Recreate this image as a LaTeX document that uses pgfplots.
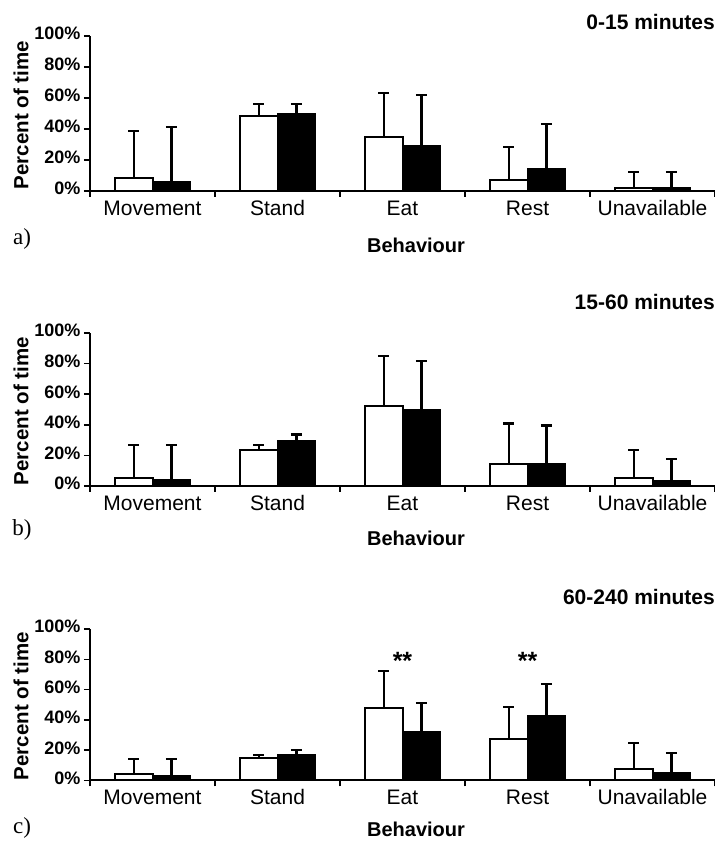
\documentclass[border=0pt]{standalone}
\usepackage{pgfplots}
\pgfplotsset{compat=1.18}
\usepackage{pgfplotstable}
\usepackage{fontspec}
\setmainfont{Liberation Sans}
\newfontfamily\timesf{Liberation Serif}

% x: category index; wv/we: white bar value / upper error; bv/be: black bar value / upper error
\pgfplotstableread{
x wv we bv be
0 8.2 30.7 6.0 35.3
1 48.4 7.6 49.7 6.3
2 34.6 28.4 29.0 33.0
3 6.9 21.7 14.0 29.4
4 2.1 10.2 1.7 10.6
}\dataA
\pgfplotstableread{
x wv we bv be
0 5.0 21.7 3.7 23.0
1 23.5 3.4 29.6 4.1
2 52.4 32.8 49.4 32.1
3 14.6 26.3 14.6 25.0
4 5.0 18.3 3.5 13.9
}\dataB
\pgfplotstableread{
x wv we bv be
0 4.0 10.1 2.6 11.5
1 14.5 2.2 16.9 3.3
2 47.6 24.8 32.1 18.8
3 27.3 21.1 42.7 20.9
4 7.3 17.5 5.0 12.8
}\dataC

\pgfplotsset{
 panel/.style={
  scale only axis, width=625pt,
  xmin=-0.5, xmax=4.5, ymin=0, ymax=100,
  axis lines*=left,
  axis line style={line width=1.8pt, black},
  ybar=0pt, bar width=37.5pt,
  xtick={0,...,4}, xticklabels={Movement,Stand,Eat,Rest,Unavailable},
  major x tick style={draw=none},
  minor xtick={-0.5,0.5,...,4.5},
  ytick={0,20,...,100}, yticklabels={0\%,20\%,40\%,60\%,80\%,100\%},
  tick align=outside, tick style={line width=1.5pt, black},
  major tick length=6pt, minor tick length=6pt,
  typeset ticklabels with strut,
  xticklabel style={font=\fontsize{21}{24}\selectfont, yshift=2pt},
  yticklabel style={font=\bfseries\fontsize{18}{20}\selectfont},
  every axis x label/.style={at={(axis description cs:0.5216,0)}, anchor=center, inner sep=0pt},
  every axis y label/.style={at={(axis description cs:0,0.49)}, xshift=-69pt, rotate=90, anchor=center},
  xlabel={Behaviour}, ylabel={Percent of time},
  xlabel style={font=\bfseries\fontsize{20}{22}\selectfont},
  ylabel style={font=\bfseries\fontsize{20.5}{22}\selectfont},
 },
 wbar/.style={fill=white, draw=black, line width=2pt,
   error bars/.cd, y dir=plus, y explicit,
   error bar style={line width=2.5pt, black},
   error mark options={rotate=90, line width=2.2pt, mark size=5.5pt, black}},
 bbar/.style={fill=black, draw=black, line width=2pt,
   error bars/.cd, y dir=plus, y explicit,
   error bar style={line width=2.5pt, black},
   error mark options={rotate=90, line width=2.2pt, mark size=5.5pt, black}},
}

\begin{document}
\begin{tikzpicture}
\useasboundingbox (0,0) rectangle (715pt,841pt);

% panel a
\begin{axis}[panel, height=155pt, at={(90pt,650pt)}, anchor=south west,
  xlabel style={yshift=-54pt}]
\addplot[wbar] table[x=x, y=wv, y error=we]{\dataA};
\addplot[bbar] table[x=x, y=bv, y error=be]{\dataA};
\end{axis}

% panel b
\begin{axis}[panel, height=153pt, at={(90pt,355pt)}, anchor=south west,
  xlabel style={yshift=-52pt}]
\addplot[wbar] table[x=x, y=wv, y error=we]{\dataB};
\addplot[bbar] table[x=x, y=bv, y error=be]{\dataB};
\end{axis}

% panel c
\begin{axis}[panel, height=151.3pt, at={(90pt,60.7pt)}, anchor=south west,
  xlabel style={yshift=-49.5pt}]
\addplot[wbar] table[x=x, y=wv, y error=we]{\dataC};
\addplot[bbar] table[x=x, y=bv, y error=be]{\dataC};
\node[font=\bfseries\fontsize{25}{25}\selectfont] at (axis cs:2,79) {**};
\node[font=\bfseries\fontsize{25}{25}\selectfont] at (axis cs:3,79) {**};
\end{axis}

\node[anchor=east, inner sep=0pt, font=\bfseries\fontsize{21}{22}\selectfont] at (715pt,819pt) {0-15 minutes};
\node[anchor=east, inner sep=0pt, font=\bfseries\fontsize{21}{22}\selectfont] at (715pt,539pt) {15-60 minutes};
\node[anchor=east, inner sep=0pt, font=\bfseries\fontsize{21}{22}\selectfont] at (715pt,244pt) {60-240 minutes};

\node[font=\timesf\fontsize{23}{24}\selectfont] at (22pt,602pt) {a)};
\node[font=\timesf\fontsize{23}{24}\selectfont] at (22pt,311pt) {b)};
\node[font=\timesf\fontsize{23}{24}\selectfont] at (22pt,13pt) {c)};
\end{tikzpicture}
\end{document}
